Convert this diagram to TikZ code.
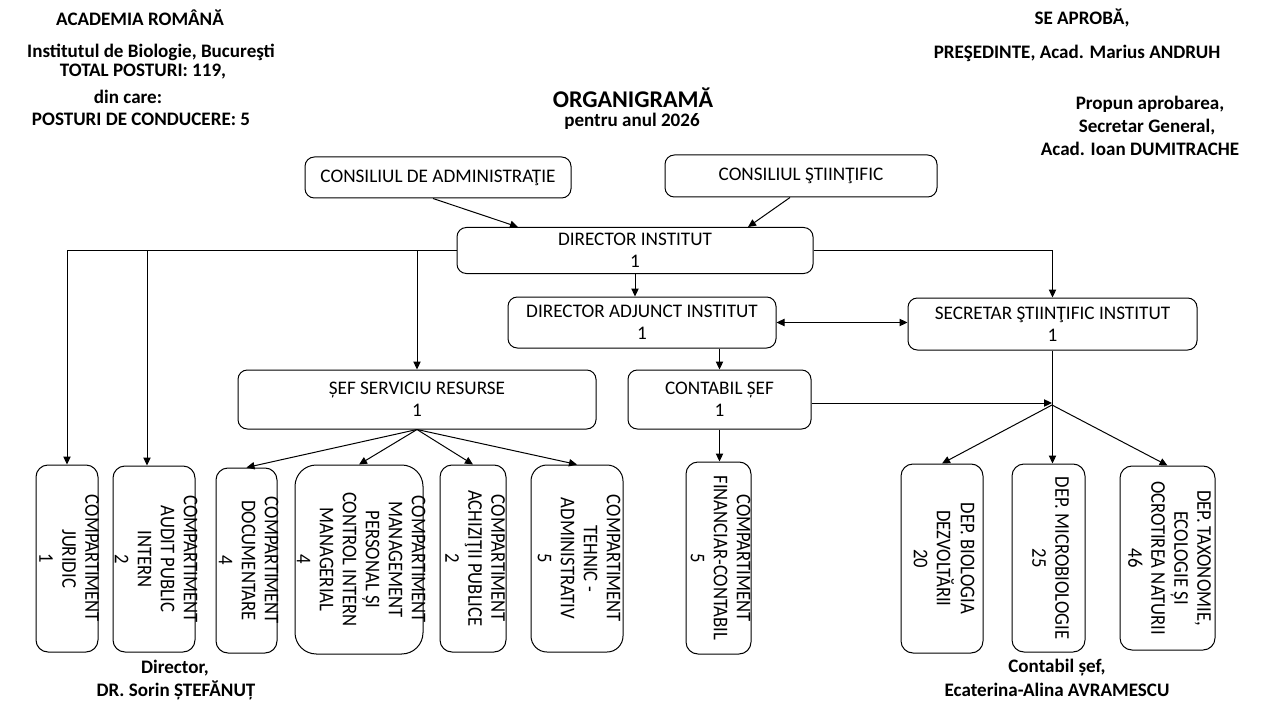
\documentclass[tikz,border=0pt]{standalone}
\usepackage{fontspec}
\setmainfont{Carlito}
\usetikzlibrary{arrows.meta,calc}
\newcommand\myvtext[1]{\rotatebox{-90}{\scalebox{1}[1.12]{\fontsize{14pt}{15.4pt}\selectfont\begin{tabular}{@{}c@{}}#1\end{tabular}}}}
\begin{document}
\begin{tikzpicture}[x=0.75pt,y=-0.75pt, line width=0.75pt,
 sz/.style 2 args={minimum width=#1*0.75pt, minimum height=#2*0.75pt},
 hbox/.style={draw, rounded corners=7pt, inner sep=0pt, align=center, font=\fontsize{14.4pt}{16.5pt}\selectfont},
 vbox/.style={draw, rounded corners=9pt, inner sep=-40pt},
 arr/.style={-{Triangle[length=6pt,width=5.5pt]}},
 darr/.style={{Triangle[length=6pt,width=5.5pt]}-{Triangle[length=6pt,width=5.5pt]}},
 hdr/.style={font=\fontsize{14.3pt}{16pt}\selectfont\bfseries, inner sep=0pt},
 title/.style={font=\fontsize{18pt}{20pt}\selectfont\bfseries, inner sep=0pt}
]
\useasboundingbox (0,0) rectangle (1280,720);
\fill[white] (0,0) rectangle (1280,720);

% header texts
\node[hdr] (h1) at (140,18) {ACADEMIA ROMÂNĂ};
\node[hdr] (h2) at (151,52) {Institutul de Biologie, Bucureşti};
\node[hdr] (h3) at (143,72) {TOTAL POSTURI: 119,};
\node[hdr] (h4) at (128,97) {din care:};
\node[hdr] (h5) at (141,119) {POSTURI DE CONDUCERE: 5};
\node[hdr] (r1) at (1082,18) {SE APROBĂ,};
\node[hdr] (r2) at (1077,53) {PREŞEDINTE, Acad. Marius ANDRUH};
\node[hdr] (r3) at (1150,104) {Propun aprobarea,};
\node[hdr] (r4) at (1147,127) {Secretar General,};
\node[hdr] (r5) at (1140,149) {Acad. Ioan DUMITRACHE};
\node[title] (tt) at (633,98) {ORGANIGRAMĂ};
\node[hdr] (ts) at (632,121) {pentru anul 2026};
\node[hdr] (f1) at (175,668) {Director,};
\node[hdr] (f2) at (176,690) {DR. Sorin ȘTEFĂNUȚ};
\node[hdr] (f3) at (1057,668) {Contabil șef,};
\node[hdr] (f4) at (1057,690) {Ecaterina-Alina AVRAMESCU};

% horizontal boxes
\node[hbox, sz={266}{41}] (ca) at (438,177.5) {CONSILIUL DE ADMINISTRAŢIE};
\node[hbox, sz={272}{42}] (cs) at (801,176) {CONSILIUL ŞTIINŢIFIC};
\node[hbox, sz={356}{46}] (dir) at (635,250.5) {DIRECTOR INSTITUT\\1};
\node[hbox, sz={268}{51}] (adj) at (642,322.5) {DIRECTOR ADJUNCT INSTITUT\\1};
\node[hbox, sz={289}{52}] (sec) at (1052.5,324) {SECRETAR ŞTIINŢIFIC INSTITUT\\1};
\node[hbox, sz={358}{59}] (sef) at (417,399.5) {ȘEF SERVICIU RESURSE\\1};
\node[hbox, sz={183}{59}] (cont) at (719.5,399.5) {CONTABIL ȘEF\\1};

% vertical boxes
\node[vbox, sz={62}{187}] (jur) at (67,558.5) {\myvtext{COMPARTIMENT\\JURIDIC\\1}};
\node[vbox, sz={82}{186}] (aud) at (154,559) {\myvtext{COMPARTIMENT\\AUDIT PUBLIC\\INTERN\\2}};
\node[vbox, sz={61}{185}] (doc) at (246.5,560.5) {\myvtext{COMPARTIMENT\\DOCUMENTARE\\4}};
\node[vbox, rounded corners=16pt, sz={128}{189}] (man) at (359,559.5) {\myvtext{COMPARTIMENT\\MANAGEMENT\\PERSONAL ȘI\\CONTROL INTERN\\MANAGERIAL\\4}};
\node[vbox, sz={66}{187}] (ach) at (473,558.5) {\myvtext{COMPARTIMENT\\ACHIZIŢII PUBLICE\\2}};
\node[vbox, rounded corners=12pt, sz={92}{187}] (teh) at (577,558.5) {\myvtext{COMPARTIMENT\\TEHNIC -\\ADMINISTRATIV\\5}};
\node[vbox, sz={65}{192}] (fin) at (718.5,558) {\myvtext{COMPARTIMENT\\FINANCIAR-CONTABIL\\5}};
\node[vbox, sz={82}{189}] (bio) at (942,558.5) {\myvtext{DEP. BIOLOGIA\\DEZVOLTĂRII\\20}};
\node[vbox, sz={73}{188}] (mic) at (1048.5,558) {\myvtext{DEP. MICROBIOLOGIE\\25}};
\node[vbox, sz={95}{184}] (tax) at (1167.5,558) {\myvtext{DEP. TAXONOMIE,\\ECOLOGIE ȘI\\OCROTIREA NATURII\\46}};

\coordinate (hub) at (1052,403);

% connectors
\draw[arr] ($(ca.south)+(-5,0)$) -- (518,0 |- dir.north);
\draw[arr] ($(cs.south)+(-11,0)$) -- (748,0 |- dir.north);
\draw[arr] (dir.west) -| (jur.north);
\draw[arr] (147,0 |- dir.west) -- (147,0 |- aud.north);
\draw[arr] (sef.north |- dir.west) -- (sef.north);
\draw[arr] (dir.east) -| (sec.north);
\draw[arr] (dir.south) -- (dir.south |- adj.north);
\draw[arr] (cont.north |- adj.south) -- (cont.north);
\draw[darr] (adj.east) -- (adj.east -| sec.west);
\draw[arr] (cont.south) -- (cont.south |- fin.north);
\draw[arr] (cont.east |- hub) -- (hub);
\draw[arr] (sec.south) -- (sec.south |- mic.north);
\draw[arr] ($(hub)+(0,2)$) -- (bio.north);
\draw[arr] ($(hub)+(0,2)$) -- (tax.north);
\draw[arr] (sef.south) -- (doc.north);
\draw[arr] (sef.south) -- (man.north);
\draw[arr] (sef.south) -- (ach.north);
\draw[arr] (sef.south) -- (teh.north);
\end{tikzpicture}
\end{document}
